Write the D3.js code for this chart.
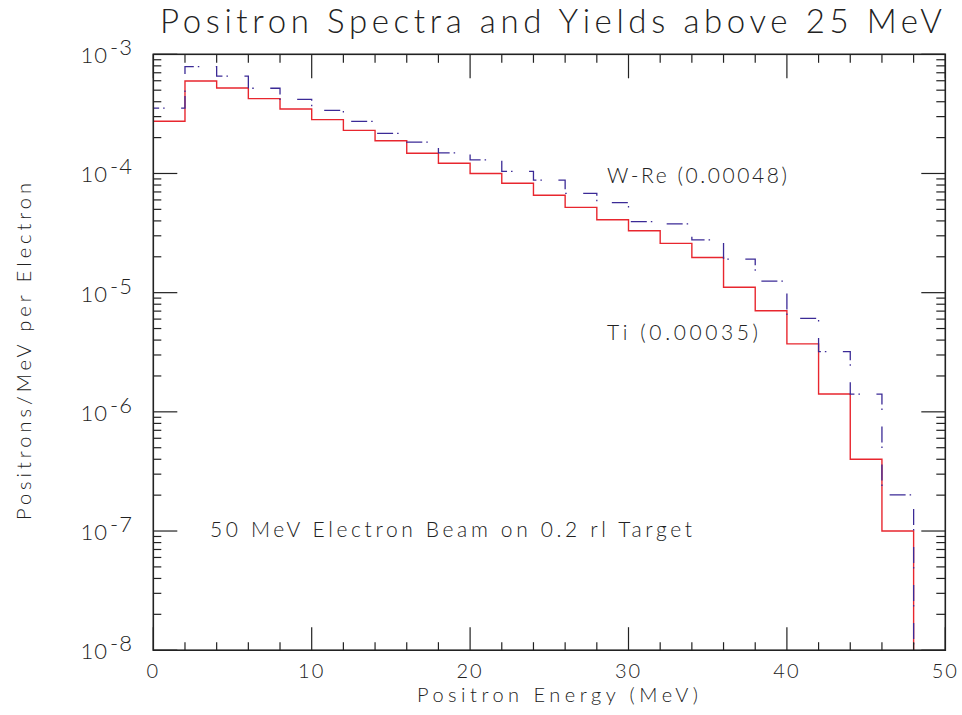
<!DOCTYPE html>
<html><head><meta charset="utf-8">
<script src="https://cdn.jsdelivr.net/npm/d3@7"></script>
<style>
html,body{margin:0;padding:0;background:#fff;}
text{font-family:"Lato","DejaVu Sans",sans-serif;font-weight:300;fill:#222;}
</style></head>
<body><svg id="c" width="962" height="715"></svg>
<script>
// ---- data ----
const binStarts = [0,2,4,6,8,10,12,14,16,18,20,22,24,26,28,30,32,34,36,38,40,42,44,46];
const binWidth = 2;
const tiValues = [2.74e-4,5.97e-4,5.21e-4,4.25e-4,3.48e-4,2.83e-4,2.30e-4,1.88e-4,1.48e-4,1.22e-4,
  1.00e-4,8.27e-5,6.56e-5,5.2e-5,4.09e-5,3.31e-5,2.59e-5,1.97e-5,1.11e-5,7.06e-6,
  3.72e-6,1.41e-6,4.0e-7,1.0e-7];
const wreValues = [3.54e-4,7.87e-4,6.57e-4,5.19e-4,4.19e-4,3.39e-4,2.74e-4,2.17e-4,1.83e-4,1.49e-4,
  1.30e-4,1.04e-4,8.8e-5,6.82e-5,5.69e-5,3.94e-5,3.78e-5,2.77e-5,1.91e-5,1.25e-5,
  6.09e-6,3.20e-6,1.41e-6,2.01e-7];
const xTickValues = [0,10,20,30,40,50];
const xMinorValues = [2,4,6,8,12,14,16,18,22,24,26,28,32,34,36,38,42,44,46,48];
const yDecades = [1e-3,1e-4,1e-5,1e-6,1e-7,1e-8];
const yDecadeLabels = ["-3","-4","-5","-6","-7","-8"];
const titleText = "Positron Spectra and Yields above 25 MeV";
const xTitle = "Positron Energy (MeV)";
const yTitle = "Positrons/MeV per Electron";
const noteText = "50 MeV Electron Beam on 0.2 rl Target";
const wreLabel = "W-Re (0.00048)";
const tiLabel = "Ti (0.00035)";

// ---- layout ----
const L = 153.3, R = 945.3, T = 54.3, B = 650.2;
const svg = d3.select("#c");
const x = d3.scaleLinear().domain([0,50]).range([L,R]);
const y = d3.scaleLog().domain([1e-8,1e-3]).range([B,T]);

svg.append("defs").append("clipPath").attr("id","clip")
  .append("rect").attr("x",L).attr("y",T).attr("width",R-L).attr("height",B-T);

// histogram lines
function stepPoints(vals){
  const pts = [[binStarts[0], 1e-8]];
  vals.forEach((v,i)=>pts.push([binStarts[i], v]));
  pts.push([binStarts[binStarts.length-1]+binWidth, 1e-8]);
  return pts;
}
const line = d3.line().x(d=>x(d[0])).y(d=>y(d[1])).curve(d3.curveStepAfter);
const g = svg.append("g").attr("clip-path","url(#clip)");
g.append("path").attr("d", line(stepPoints(tiValues)))
  .attr("fill","none").attr("stroke","#e8262e").attr("stroke-width",1.4);
g.append("path").attr("d", line(stepPoints(wreValues)))
  .attr("fill","none").attr("stroke","#3b2a96").attr("stroke-width",1.3)
  .attr("stroke-dasharray","16,4,1.5,16.5");

// frame
const ax = svg.append("g").attr("stroke","#222").attr("fill","none");
ax.append("rect").attr("x",L).attr("y",T).attr("width",R-L).attr("height",B-T)
  .attr("stroke-width",1.6);

// x ticks
xTickValues.forEach(v=>{
  ax.append("line").attr("x1",x(v)).attr("x2",x(v)).attr("y1",B).attr("y2",B-23).attr("stroke-width",1.2);
  ax.append("line").attr("x1",x(v)).attr("x2",x(v)).attr("y1",T).attr("y2",T+24).attr("stroke-width",1.2);
});
xMinorValues.forEach(v=>{
  ax.append("line").attr("x1",x(v)).attr("x2",x(v)).attr("y1",B).attr("y2",B-8).attr("stroke-width",1.2);
  ax.append("line").attr("x1",x(v)).attr("x2",x(v)).attr("y1",T).attr("y2",T+8.5).attr("stroke-width",1.2);
});
// y ticks
y.ticks().forEach(v=>{
  const m = Math.round(v/Math.pow(10,Math.floor(Math.log10(v)+1e-9)));
  const major = m===1;
  const len = major?24:8;
  const lenR = major?24:9;
  ax.append("line").attr("x1",L).attr("x2",L+len).attr("y1",y(v)).attr("y2",y(v)).attr("stroke-width",1.2);
  ax.append("line").attr("x1",R).attr("x2",R-lenR).attr("y1",y(v)).attr("y2",y(v)).attr("stroke-width",1.2);
});

// tick labels
xTickValues.forEach(v=>{
  svg.append("text").attr("x",x(v)).attr("y",678).attr("text-anchor","middle")
    .attr("font-size",20).attr("letter-spacing",2).text(v);
});
yDecades.forEach((v,i)=>{
  const t = svg.append("text").attr("x",133).attr("y",y(v)+9).attr("text-anchor","end").attr("font-size",22)
    .attr("letter-spacing",1);
  t.append("tspan").text("10");
  t.append("tspan").attr("dy",-8).attr("dx",2).text(yDecadeLabels[i]);
});

// titles
svg.append("text").attr("x",160).attr("y",33).attr("font-size",33)
  .attr("textLength",782).attr("lengthAdjust","spacing").text(titleText);
svg.append("text").attr("x",417).attr("y",702).attr("font-size",20)
  .attr("textLength",281).attr("lengthAdjust","spacing").text(xTitle);
svg.append("text").attr("transform","translate(31,520) rotate(-90)").attr("font-size",20)
  .attr("textLength",337).attr("lengthAdjust","spacing").text(yTitle);
svg.append("text").attr("x",210).attr("y",537).attr("font-size",21)
  .attr("textLength",482).attr("lengthAdjust","spacing").text(noteText);
svg.append("text").attr("x",607).attr("y",183).attr("font-size",21)
  .attr("textLength",180).attr("lengthAdjust","spacing").text(wreLabel);
svg.append("text").attr("x",607).attr("y",340).attr("font-size",21)
  .attr("textLength",151).attr("lengthAdjust","spacing").text(tiLabel);
</script></body></html>
